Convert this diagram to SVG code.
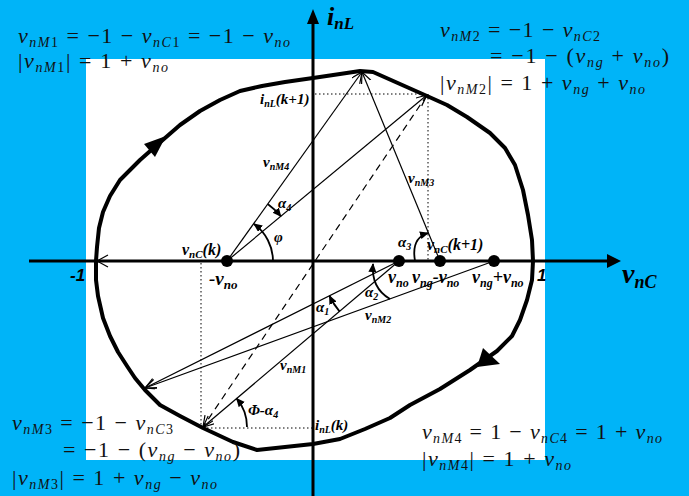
<svg xmlns="http://www.w3.org/2000/svg" width="689" height="496" viewBox="0 0 689 496">
<style>
.lb{font-family:"Liberation Serif",serif;font-weight:bold;font-style:italic;fill:#000}
.ls{font-family:"Liberation Sans",sans-serif;font-weight:bold;font-style:italic;fill:#000}
.m{font-family:"Liberation Serif","DejaVu Serif",serif;font-size:22px;fill:#111}
.i{font-style:italic}
.s{font-size:14px;font-style:italic}
.sd{font-size:14px}
.thin{stroke:#000;stroke-width:1.2;fill:none}
.dot{stroke:#000;stroke-width:1;stroke-dasharray:1.5 2.5;fill:none}
.arc{stroke:#000;stroke-width:1.8;fill:none}
</style>
<defs>
<marker id="oa" markerUnits="userSpaceOnUse" markerWidth="14" markerHeight="12" refX="11" refY="5" orient="auto">
<path d="M0,0 L11,5 L0,10" fill="none" stroke="#000" stroke-width="1.2"/>
</marker>
<marker id="fa" markerUnits="userSpaceOnUse" markerWidth="12" markerHeight="10" refX="8" refY="4" orient="auto">
<path d="M0,0 L9,4 L0,8 Z" fill="#000"/>
</marker>
</defs>
<rect width="689" height="496" fill="#00B4F8"/>
<rect x="86" y="59" width="459" height="401" fill="#fff"/>

<g id="axes">
<line x1="29" y1="261" x2="610" y2="261" stroke="#000" stroke-width="3"/>
<polygon points="621,261 607,254 607,268" fill="#000"/>
<line x1="313" y1="496" x2="313" y2="20" stroke="#000" stroke-width="3"/>
<polygon points="313,9 307,24 319,24" fill="#000"/>
<path d="M108,255 L97,261 L108,267" class="thin"/>
</g>

<g id="trajectory">
<path d="M96,261 L97,247 L99,228 L103,212 L110,196 L120,180 L130,170 L140,160 L157,145 L180,125 L200,111 L220,100 L240,91 L262,86 L285,82 L313,78 L340,74 L360,71 L373,72 L400,84 L427,96 L447,105 L467,117 L490,133 L505,148 L515,165 L523,190 L528,215 L532,240 L533,261 L532,280 L527,300 L520,320 L512,336 L497,351 L470,370 L440,389 L410,405 L390,418 L365,429 L340,439 L313,444 L285,447 L257,450 L233,442 L203,428 L180,416 L160,405 L145,390 L135,378 L127,366 L118,352 L110,336 L103,318 L98,296 L96,280 Z" fill="none" stroke="#000" stroke-width="4" stroke-linejoin="round"/>
<polygon points="166,136 155,157 144,144" fill="#000"/>
<polygon points="477,367 483,348 500,364" fill="#000"/>
</g>

<g id="connectors">
<line x1="227" y1="261" x2="362" y2="72" class="thin" marker-end="url(#oa)"/>
<line x1="227" y1="261" x2="427" y2="95" class="thin" marker-end="url(#oa)"/>
<line x1="440" y1="261" x2="362" y2="72" class="thin" marker-end="url(#oa)"/>
<line x1="427" y1="95" x2="203" y2="427" class="thin" stroke-dasharray="7 5" marker-end="url(#oa)"/>
<line x1="399" y1="261" x2="203" y2="427" class="thin" marker-end="url(#oa)"/>
<line x1="399" y1="261" x2="145" y2="388" class="thin" marker-end="url(#oa)"/>
<line x1="494" y1="261" x2="145" y2="388" class="thin" marker-end="url(#oa)"/>
<line x1="315" y1="94" x2="427" y2="94" class="dot"/>
<line x1="428" y1="94" x2="428" y2="261" class="dot"/>
<line x1="201" y1="263" x2="201" y2="428" class="dot"/>
<line x1="203" y1="428" x2="313" y2="428" class="dot"/>
</g>

<g id="angles">
<path d="M273,261 A46,46 0 0 0 254,224" class="arc" marker-end="url(#fa)"/>
<path d="M267.7,204 A70,70 0 0 1 280.8,216.3" class="arc" marker-end="url(#fa)"/>
<path d="M339.5,311.4 A78,78 0 0 1 329.5,296" class="arc" marker-end="url(#fa)"/>
<path d="M390,299 Q371,288 373,264" class="arc" marker-end="url(#fa)"/>
<path d="M415,261 Q411,238 428,233" class="arc" marker-end="url(#fa)"/>
<path d="M247,427 A44,44 0 0 0 236.6,398.5" class="arc" marker-end="url(#fa)"/>
</g>

<g id="points">
<circle cx="227" cy="261" r="6"/>
<circle cx="399" cy="261" r="6"/>
<circle cx="440" cy="261" r="6"/>
<circle cx="494" cy="261" r="6"/>
</g>

<g id="labels">
<text class="lb" x="327" y="25" font-size="26">i<tspan font-size="17" dy="4">nL</tspan></text>
<text class="lb" x="622" y="283" font-size="28">v<tspan font-size="18" dy="5">nC</tspan></text>
<text class="ls" x="70" y="281" font-size="17">-1</text>
<text class="ls" x="537" y="281" font-size="17">1</text>
<text class="lb" x="182" y="255" font-size="16">v<tspan font-size="11" dy="3">nC</tspan><tspan dy="-3">(k)</tspan></text>
<text class="lb" x="209" y="285" font-size="19">-v<tspan font-size="13" dy="4">no</tspan></text>
<text class="lb" x="263" y="167" font-size="15">v<tspan font-size="10" dy="3">nM4</tspan></text>
<text class="lb" x="408" y="183" font-size="15">v<tspan font-size="10" dy="3">nM3</tspan></text>
<text class="lb" x="365" y="320" font-size="15">v<tspan font-size="10" dy="3">nM2</tspan></text>
<text class="lb" x="280" y="370" font-size="15">v<tspan font-size="10" dy="3">nM1</tspan></text>
<text class="lb" x="260" y="104" font-size="15">i<tspan font-size="10" dy="3">nL</tspan><tspan dy="-3">(k+1)</tspan></text>
<text class="lb" x="315" y="430" font-size="15">i<tspan font-size="10" dy="3">nL</tspan><tspan dy="-3">(k)</tspan></text>
<text class="lb" x="427" y="250" font-size="16">v<tspan font-size="11" dy="3">nC</tspan><tspan dy="-3">(k+1)</tspan></text>
<text class="lb" x="388" y="283" font-size="18">v<tspan font-size="12" dy="4">no</tspan></text>
<text class="lb" x="412" y="283" font-size="18">v<tspan font-size="12" dy="4">ng</tspan><tspan dy="-4">-v</tspan><tspan font-size="12" dy="4">no</tspan></text>
<text class="lb" x="472" y="283" font-size="18">v<tspan font-size="12" dy="4">ng</tspan><tspan dy="-4">+v</tspan><tspan font-size="12" dy="4">no</tspan></text>
<text class="lb" x="278" y="208" font-size="15">α<tspan font-size="10" dy="3">4</tspan></text>
<text class="lb" x="274" y="242" font-size="15">φ</text>
<text class="lb" x="398" y="247" font-size="15">α<tspan font-size="10" dy="3">3</tspan></text>
<text class="lb" x="365" y="297" font-size="15">α<tspan font-size="10" dy="3">2</tspan></text>
<text class="lb" x="316" y="312" font-size="15">α<tspan font-size="10" dy="3">1</tspan></text>
<text class="lb" x="248" y="415" font-size="15">Φ-α<tspan font-size="10" dy="3">4</tspan></text>
</g>

<g id="equations">
<text class="m" x="18" y="43" textLength="272" lengthAdjust="spacing"><tspan class="i">v</tspan><tspan class="s" dy="4">nM</tspan><tspan class="sd">1</tspan><tspan dy="-4"> = −1 − </tspan><tspan class="i">v</tspan><tspan class="s" dy="4">nC</tspan><tspan class="sd">1</tspan><tspan dy="-4"> = −1 − </tspan><tspan class="i">v</tspan><tspan class="s" dy="4">no</tspan></text>
<text class="m" x="18" y="68" textLength="150" lengthAdjust="spacing">|<tspan class="i">v</tspan><tspan class="s" dy="4">nM</tspan><tspan class="sd">1</tspan><tspan dy="-4">| = 1 + </tspan><tspan class="i">v</tspan><tspan class="s" dy="4">no</tspan></text>

<text class="m" x="440" y="37" textLength="160" lengthAdjust="spacing"><tspan class="i">v</tspan><tspan class="s" dy="4">nM</tspan><tspan class="sd">2</tspan><tspan dy="-4"> = −1 − </tspan><tspan class="i">v</tspan><tspan class="s" dy="4">nC</tspan><tspan class="sd">2</tspan></text>
<text class="m" x="490" y="63" textLength="179" lengthAdjust="spacing">= −1 − (<tspan class="i">v</tspan><tspan class="s" dy="4">ng</tspan><tspan dy="-4"> + </tspan><tspan class="i">v</tspan><tspan class="s" dy="4">no</tspan><tspan dy="-4">)</tspan></text>
<text class="m" x="440" y="90" textLength="205" lengthAdjust="spacing">|<tspan class="i">v</tspan><tspan class="s" dy="4">nM</tspan><tspan class="sd">2</tspan><tspan dy="-4">| = 1 + </tspan><tspan class="i">v</tspan><tspan class="s" dy="4">ng</tspan><tspan dy="-4"> + </tspan><tspan class="i">v</tspan><tspan class="s" dy="4">no</tspan></text>

<text class="m" x="12" y="430" textLength="161" lengthAdjust="spacing"><tspan class="i">v</tspan><tspan class="s" dy="4">nM</tspan><tspan class="sd">3</tspan><tspan dy="-4"> = −1 − </tspan><tspan class="i">v</tspan><tspan class="s" dy="4">nC</tspan><tspan class="sd">3</tspan></text>
<text class="m" x="63" y="457" textLength="177" lengthAdjust="spacing">= −1 − (<tspan class="i">v</tspan><tspan class="s" dy="4">ng</tspan><tspan dy="-4"> − </tspan><tspan class="i">v</tspan><tspan class="s" dy="4">no</tspan><tspan dy="-4">)</tspan></text>
<text class="m" x="12" y="485" textLength="205" lengthAdjust="spacing">|<tspan class="i">v</tspan><tspan class="s" dy="4">nM</tspan><tspan class="sd">3</tspan><tspan dy="-4">| = 1 + </tspan><tspan class="i">v</tspan><tspan class="s" dy="4">ng</tspan><tspan dy="-4"> − </tspan><tspan class="i">v</tspan><tspan class="s" dy="4">no</tspan></text>

<text class="m" x="422" y="439" textLength="240" lengthAdjust="spacing"><tspan class="i">v</tspan><tspan class="s" dy="4">nM</tspan><tspan class="sd">4</tspan><tspan dy="-4"> = 1 − </tspan><tspan class="i">v</tspan><tspan class="s" dy="4">nC</tspan><tspan class="sd">4</tspan><tspan dy="-4"> = 1 + </tspan><tspan class="i">v</tspan><tspan class="s" dy="4">no</tspan></text>
<text class="m" x="422" y="466" textLength="149" lengthAdjust="spacing">|<tspan class="i">v</tspan><tspan class="s" dy="4">nM</tspan><tspan class="sd">4</tspan><tspan dy="-4">| = 1 + </tspan><tspan class="i">v</tspan><tspan class="s" dy="4">no</tspan></text>
</g>
</svg>
